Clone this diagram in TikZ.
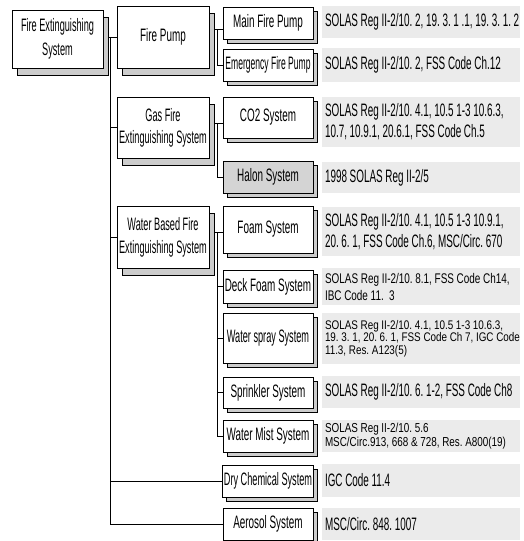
\documentclass[tikz,border=0pt]{standalone}
\usepackage{fontspec}
\setmainfont{Liberation Sans}
\newfontfamily\fA{Liberation Sans}[FakeStretch=0.55]
\newfontfamily\fB{Liberation Sans}[FakeStretch=0.51]
\newfontfamily\fC{Liberation Sans}[FakeStretch=0.475]
\newfontfamily\fS{Liberation Sans}[FakeStretch=0.71]
\newfontfamily\fM{Liberation Sans}[FakeStretch=0.76]
\newfontfamily\fW{Liberation Sans}[FakeStretch=0.79]
\newcommand\tightsp{\spaceskip=2.7pt\relax\xspaceskip=2.7pt\relax}
\frenchspacing
\usetikzlibrary{shadows,backgrounds}
\definecolor{shadowgray}{gray}{0.80}
\definecolor{refgray}{gray}{0.92}
\definecolor{halongray}{gray}{0.83}
\tikzset{
  boxbase/.style={draw=black, fill=white, line width=0.8pt, inner sep=1pt, align=center,
    font=\fA\fontsize{18}{22}\selectfont},
  lbox/.style={boxbase, copy shadow={shadow xshift=5pt, shadow yshift=-7pt, fill=shadowgray, draw=black, line width=0.8pt}},
  sbox/.style={boxbase, copy shadow={shadow xshift=4pt, shadow yshift=-4pt, fill=shadowgray, draw=black, line width=0.8pt}},
  refbox/.style={fill=refgray, draw=none, inner sep=3pt, text width=192pt, align=left,
    minimum width=198pt, font=\fA\fontsize{18}{21}\selectfont},
  narrowB/.style={font=\fB\fontsize{18}{#1}\selectfont},
  narrowC/.style={font=\fC\fontsize{18}{#1}\selectfont},
  conn/.style={draw=black, line width=0.8pt}
}
\begin{document}
\frenchspacing
\tightsp
\begin{tikzpicture}[x=1pt,y=-1pt]
\useasboundingbox (0,0) rectangle (524,541);
% level 0
\node[lbox, narrowB=24, minimum width=91pt, minimum height=58pt] (root) at (57.5,39) {Fire Extinguishing\\System};
% level 1
\node[lbox, minimum width=92pt, minimum height=62pt] (fp) at (163,37) {Fire Pump};
\node[lbox, narrowB=22, minimum width=92pt, minimum height=61pt] (gas) at (163,127.5) {Gas Fire\\Extinguishing System};
\node[lbox, narrowB=23, minimum width=92pt, minimum height=62pt] (wat) at (163,237) {Water Based Fire\\Extinguishing System};
% level 2
\node[sbox, minimum width=90pt, minimum height=32pt] (mfp) at (268,23) {Main Fire Pump};
\node[sbox, narrowC=22, minimum width=90pt, minimum height=32pt] (efp) at (268,65) {Emergency Fire Pump};
\node[sbox, minimum width=90pt, minimum height=41pt] (co2) at (268,117.5) {CO2 System};
\node[sbox, minimum width=90pt, minimum height=32pt, fill=halongray] (hal) at (268,177) {Halon System};
\node[sbox, minimum width=90pt, minimum height=47pt] (foam) at (268,229.5) {Foam System};
\node[sbox, minimum width=90pt, minimum height=33pt] (deck) at (268,286.5) {Deck Foam System};
\node[sbox, narrowB=22, minimum width=90pt, minimum height=50pt] (spray) at (268,338) {Water spray System};
\node[sbox, minimum width=90pt, minimum height=31pt] (spr) at (268,392.5) {Sprinkler System};
\node[sbox, minimum width=90pt, minimum height=32pt] (mist) at (268,436) {Water Mist System};
\node[sbox, narrowB=22, minimum width=90pt, minimum height=32pt] (dry) at (268,481) {Dry Chemical System};
\node[sbox, minimum width=90pt, minimum height=32pt] (aer) at (268,524) {Aerosol System};
% references
\node[refbox, minimum height=32pt] (r1) at (421,22) {\tightsp\mbox{SOLAS Reg II-2/10. 2, 19. 3. 1 .1, 19. 3. 1. 2}};
\node[refbox, minimum height=34pt] (r2) at (421,65) {\tightsp\mbox{SOLAS Reg II-2/10. 2, FSS Code Ch.12}};
\node[refbox, minimum height=50pt] (r3) at (421,122) {\tightsp\mbox{SOLAS Reg II-2/10. 4.1, 10.5 1-3 10.6.3,}\\\mbox{10.7, 10.9.1, 20.6.1, FSS Code Ch.5}};
\node[refbox, minimum height=31pt] (r4) at (421,177.5) {\tightsp\mbox{1998 SOLAS Reg II-2/5}};
\node[refbox, minimum height=49pt] (r5) at (421,231.5) {\tightsp\mbox{SOLAS Reg II-2/10. 4.1, 10.5 1-3 10.9.1,}\\\mbox{20. 6. 1, FSS Code Ch.6, MSC/Circ. 670}};
\node[refbox, minimum height=37pt, font=\fS\fontsize{14}{17}\selectfont] (r6) at (421,286.5) {\tightsp\mbox{SOLAS Reg II-2/10. 8.1, FSS Code Ch14,}\\\mbox{IBC Code 11.\ \ 3}};
\node[refbox, minimum height=51pt, font=\fW\fontsize{12.5}{12.5}\selectfont] (r7) at (421,338.5) {\tightsp\mbox{SOLAS Reg II-2/10. 4.1, 10.5 1-3 10.6.3,}\\\mbox{19. 3. 1, 20. 6. 1, FSS Code Ch 7, IGC Code}\\\mbox{11.3, Res. A123(5)}};
\node[refbox, minimum height=32pt] (r8) at (421,392) {\tightsp\mbox{SOLAS Reg II-2/10. 6. 1-2, FSS Code Ch8}};
\node[refbox, minimum height=32pt, font=\fM\fontsize{13}{14}\selectfont] (r9) at (421,436) {\tightsp\mbox{SOLAS Reg II-2/10. 5.6}\\\mbox{MSC/Circ.913, 668 \& 728, Res. A800(19)}};
\node[refbox, minimum height=33pt] (r10) at (421,480.5) {\tightsp\mbox{IGC Code 11.4}};
\node[refbox, minimum height=32pt] (r11) at (421,524) {\tightsp\mbox{MSC/Circ. 848. 1007}};
% connectors
\coordinate (bus0) at (110,0);
\coordinate (j1) at (217,29);
\coordinate (j2) at (217,123);
\coordinate (j3) at (217,232);
\begin{pgfonlayer}{background}
\draw[conn] (root.east |- fp.west) -- (fp.west);
\draw[conn] (bus0 |- fp.west) |- (aer.west);
\draw[conn] (bus0 |- gas.west) -- (gas.west);
\draw[conn] (bus0 |- wat.west) -- (wat.west);
\draw[conn] (bus0 |- dry.west) -- (dry.west);
\draw[conn] (fp.east |- j1) -- (mfp.west |- j1);
\draw[conn] (j1) |- (efp.west);
\draw[conn] (gas.east |- j2) -- (co2.west |- j2);
\draw[conn] (j2) |- (hal.west);
\draw[conn] (wat.east |- j3) -- (foam.west |- j3);
\draw[conn] (j3) |- (mist.west);
\draw[conn] (j3 |- deck.west) -- (deck.west);
\draw[conn] (j3 |- spray.west) -- (spray.west);
\draw[conn] (j3 |- spr.west) -- (spr.west);
\end{pgfonlayer}
\end{tikzpicture}
\end{document}
